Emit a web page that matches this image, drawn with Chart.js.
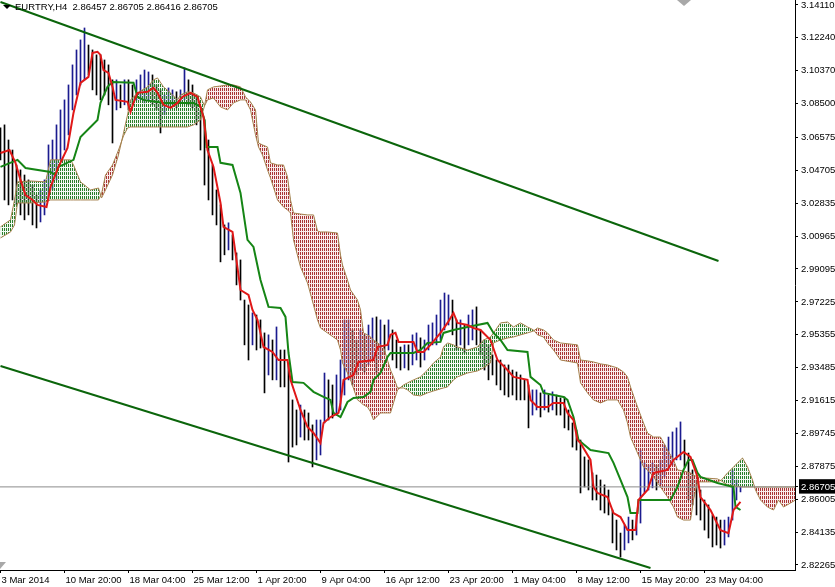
<!DOCTYPE html>
<html lang="en">
<head>
<meta charset="UTF-8">
<title>EURTRY,H4</title>
<style>
  body { margin: 0; background: #fff; }
  #wrap { position: relative; width: 835px; height: 587px; }
  #chart { display: block; }
  #title { position: absolute; left: 15px; top: 1px; font: 9.5px "Liberation Sans", sans-serif; color: #000; white-space: pre; line-height: 12px; }
  #arrow { position: absolute; left: 3px; top: 5px; width: 0; height: 0; border-left: 4px solid transparent; border-right: 4px solid transparent; border-top: 4px solid #000; }
  #shift { position: absolute; left: 677px; top: 0; width: 0; height: 0; border-left: 7px solid transparent; border-right: 7px solid transparent; border-top: 6px solid #a8a8a8; }
  #corner { position: absolute; left: 0; top: 562px; width: 0; height: 0; border-top: 7px solid #a8a8a8; border-right: 6px solid transparent; }
</style>
</head>
<body>
<div id="wrap">
  <canvas id="chart" width="835" height="587"></canvas>
  <div id="arrow"></div>
  <div id="title">EURTRY,H4  2.86457 2.86705 2.86416 2.86705</div>
  <div id="shift"></div>
  <div id="corner"></div>
</div>

<script src="https://cdn.jsdelivr.net/npm/chart.js@4.4.0/dist/chart.umd.min.js"></script>
<script>
// x axis is in H4 bars counted from the left edge of the chart
const xMin = -0.25, xMax = 397.25;
const xTickBars = [0, 32, 64, 96, 128, 160, 192, 224, 256, 288, 320, 352];
const xLabels = ["3 Mar 2014", "10 Mar 20:00", "18 Mar 04:00", "25 Mar 12:00", "1 Apr 20:00", "9 Apr 04:00",
                 "16 Apr 12:00", "23 Apr 20:00", "1 May 04:00", "8 May 12:00", "15 May 20:00", "23 May 04:00"];

const yMin = 2.8198, yMax = 3.1439;
const yTicks = [3.14110, 3.12240, 3.10370, 3.08500, 3.06575, 3.04705, 3.02835, 3.00965, 2.99095,
                2.97225, 2.95355, 2.93485, 2.91615, 2.89745, 2.87875, 2.86005, 2.84135, 2.82265];
const lastClose = 2.86705;

// price bars, one every 2 bars
const barStep = 2;
const barHigh = [
  3.0712, 3.0729, 3.0643, 3.0586, 3.0501, 3.0473, 3.0444, 3.0416, 3.0387, 3.0330,
  3.0359, 3.0416, 3.0615, 3.0643, 3.0729, 3.0814, 3.0871, 3.0956, 3.1070, 3.1155,
  3.1212, 3.1280, 3.1183, 3.1155, 3.1127, 3.1127, 3.1098, 3.1070, 3.0985, 3.0985,
  3.0956, 3.0985, 3.0985, 3.0956, 3.0985, 3.1013, 3.1041, 3.1030, 3.1013, 3.0956,
  3.0928, 3.0899, 3.0939, 3.0928, 3.0917, 3.0928, 3.1053, 3.0985, 3.0956, 3.0899,
  3.0814, 3.0757, 3.0643, 3.0501, 3.0359, 3.0274, 3.0160, 3.0172, 3.0103, 3.0001,
  2.9961, 2.9733, 2.9705, 2.9660, 2.9648, 2.9620, 2.9546, 2.9535, 2.9506, 2.9580,
  2.9449, 2.9449, 2.9375, 2.9165, 2.9108, 2.9136, 2.9108, 2.9091, 2.9023, 2.9051,
  2.9051, 2.9318, 2.9279, 2.9250, 2.9307, 2.9392, 2.9620, 2.9620, 2.9563, 2.9506,
  2.9563, 2.9535, 2.9591, 2.9631, 2.9637, 2.9620, 2.9591, 2.9620, 2.9563, 2.9506,
  2.9466, 2.9478, 2.9478, 2.9535, 2.9546, 2.9518, 2.9506, 2.9591, 2.9603, 2.9648,
  2.9733, 2.9773, 2.9762, 2.9733, 2.9620, 2.9620, 2.9591, 2.9648, 2.9677, 2.9694,
  2.9563, 2.9506, 2.9478, 2.9421, 2.9392, 2.9392, 2.9364, 2.9364, 2.9335, 2.9324,
  2.9307, 2.9279, 2.9250, 2.9222, 2.9222, 2.9205, 2.9222, 2.9193, 2.9211, 2.9193,
  2.9176, 2.9182, 2.9108, 2.9034, 2.8994, 2.8937, 2.8841, 2.8824, 2.8750, 2.8738,
  2.8710, 2.8682, 2.8653, 2.8539, 2.8482, 2.8408, 2.8454, 2.8499, 2.8482, 2.8511,
  2.8880, 2.8807, 2.8795, 2.8807, 2.8795, 2.8824, 2.8909, 2.8954, 2.8983, 2.9006,
  2.9040, 2.8937, 2.8863, 2.8767, 2.8710, 2.8653, 2.8596, 2.8568, 2.8511, 2.8499,
  2.8482, 2.8482, 2.8499, 2.8767, 2.8710, 2.8671
];
const barLow = [
  3.0530, 3.0302, 3.0274, 3.0302, 3.0274, 3.0217, 3.0189, 3.0217, 3.0160, 3.0143,
  3.0177, 3.0217, 3.0302, 3.0359, 3.0416, 3.0530, 3.0586, 3.0672, 3.0814, 3.0899,
  3.0956, 3.0985, 3.1013, 3.0928, 3.0899, 3.0871, 3.0899, 3.0843, 3.0626, 3.0814,
  3.0826, 3.0843, 3.0814, 3.0843, 3.0871, 3.0871, 3.0854, 3.0871, 3.0843, 3.0814,
  3.0683, 3.0786, 3.0826, 3.0843, 3.0826, 3.0854, 3.0871, 3.0843, 3.0826, 3.0729,
  3.0586, 3.0387, 3.0302, 3.0217, 3.0160, 2.9950, 2.9990, 3.0018, 2.9961, 2.9819,
  2.9733, 2.9478, 2.9392, 2.9478, 2.9449, 2.9460, 2.9205, 2.9307, 2.9279, 2.9279,
  2.9239, 2.9239, 2.8812, 2.8897, 2.8909, 2.8954, 2.8937, 2.8937, 2.8784, 2.8824,
  2.8852, 2.9034, 2.9051, 2.9062, 2.9079, 2.9108, 2.9193, 2.9279, 2.9250, 2.9307,
  2.9335, 2.9324, 2.9364, 2.9392, 2.9318, 2.9392, 2.9421, 2.9449, 2.9392, 2.9347,
  2.9335, 2.9347, 2.9335, 2.9364, 2.9392, 2.9352, 2.9392, 2.9449, 2.9478, 2.9478,
  2.9506, 2.9563, 2.9591, 2.9535, 2.9449, 2.9478, 2.9432, 2.9478, 2.9506, 2.9478,
  2.9421, 2.9335, 2.9279, 2.9307, 2.9250, 2.9222, 2.9193, 2.9182, 2.9193, 2.9165,
  2.9165, 2.9165, 2.9006, 2.9079, 2.9108, 2.9068, 2.9108, 2.9096, 2.9108, 2.9079,
  2.9079, 2.9006, 2.8994, 2.8897, 2.8880, 2.8636, 2.8670, 2.8653, 2.8596, 2.8596,
  2.8539, 2.8522, 2.8511, 2.8352, 2.8312, 2.8272, 2.8312, 2.8352, 2.8369, 2.8397,
  2.8465, 2.8636, 2.8653, 2.8665, 2.8653, 2.8682, 2.8727, 2.8767, 2.8795, 2.8824,
  2.8824, 2.8784, 2.8596, 2.8568, 2.8511, 2.8482, 2.8425, 2.8380, 2.8329, 2.8340,
  2.8323, 2.8340, 2.8386, 2.8482, 2.8596, 2.8642
];

// Ichimoku: Tenkan-sen (red) and Kijun-sen (green), vertices
const tenkanBar = [
  0, 4.5, 7.5, 10, 12.5, 16, 18.5, 23, 25, 29,
  33.5, 36.5, 40, 44, 46, 48.5, 50, 51.5, 54, 56,
  57.5, 63.5, 65, 66.5, 68.5, 73.5, 76.5, 78.5, 81.5, 85,
  88.5, 91, 95, 98.5, 101.5, 103.5, 106.5, 110, 111.5, 116,
  117.5, 120, 124, 126, 128.5, 130, 131.5, 136, 139, 143.5,
  145, 150, 153.5, 156.5, 160, 161.5, 165, 169, 170, 171.5,
  176.5, 179, 186.5, 188.5, 193.5, 195, 197.5, 199, 206.5, 208.5,
  211.5, 215, 220, 223.5, 226.5, 228.5, 233.5, 236.5, 240, 245,
  248.5, 253.5, 256.5, 263.5, 265, 268.5, 273.5, 276.5, 281.5, 283.5,
  286.5, 288.5, 290, 295, 296.5, 298.5, 303.5, 306.5, 310, 313.5,
  317.5, 319, 323.5, 326.5, 333.5, 336.5, 341.5, 345, 348.5, 350,
  355, 360, 364, 366.5, 370
];
const tenkanVal = [
  3.0569, 3.0586, 3.0513, 3.0416, 3.0330, 3.0302, 3.0274, 3.0262, 3.0376, 3.0490,
  3.0598, 3.0797, 3.0968, 3.1002, 3.1138, 3.1144, 3.1127, 3.1041, 3.1024, 3.0945,
  3.0871, 3.0860, 3.0803, 3.0854, 3.0911, 3.0917, 3.0939, 3.0911, 3.0843, 3.0826,
  3.0854, 3.0888, 3.0911, 3.0888, 3.0774, 3.0586, 3.0490, 3.0285, 3.0149, 3.0120,
  3.0001, 2.9790, 2.9762, 2.9677, 2.9620, 2.9546, 2.9466, 2.9438, 2.9392, 2.9392,
  2.9279, 2.9108, 2.9011, 2.8977, 2.8920, 2.9034, 2.9068, 2.9091, 2.9148, 2.9279,
  2.9307, 2.9381, 2.9392, 2.9466, 2.9478, 2.9535, 2.9546, 2.9495, 2.9495, 2.9438,
  2.9438, 2.9478, 2.9546, 2.9603, 2.9660, 2.9603, 2.9591, 2.9574, 2.9563, 2.9506,
  2.9392, 2.9335, 2.9296, 2.9279, 2.9165, 2.9125, 2.9125, 2.9148, 2.9148, 2.9091,
  2.9051, 2.8937, 2.8920, 2.8824, 2.8670, 2.8636, 2.8613, 2.8522, 2.8499, 2.8425,
  2.8425, 2.8596, 2.8653, 2.8750, 2.8767, 2.8824, 2.8869, 2.8841, 2.8727, 2.8613,
  2.8539, 2.8425, 2.8408, 2.8539, 2.8585
];
const kijunBar = [
  0, 8.5, 12.5, 25, 27.5, 29, 36.5, 40, 45, 48.5,
  50, 53.5, 56, 66.5, 68.5, 71.5, 81.5, 96.5, 100, 102,
  103, 108.5, 110, 116, 120, 123.5, 126.5, 130, 134, 140,
  142.5, 144, 146, 151.5, 156.5, 161.5, 165, 166.5, 170, 173.5,
  176.5, 181.5, 185, 186.5, 190, 193.5, 195, 206.5, 210, 213.5,
  220, 221.5, 226.5, 233.5, 243.5, 246.5, 250, 253.5, 263.5, 265,
  270, 271.5, 281.5, 283.5, 286.5, 289, 295, 304, 306.5, 310,
  313.5, 315, 318.5, 319, 335, 338.5, 341.5, 344, 346, 348.5,
  350, 358.5, 366.5, 367.5, 370
];
const kijunVal = [
  3.0490, 3.0530, 3.0484, 3.0461, 3.0444, 3.0490, 3.0530, 3.0660, 3.0717, 3.0757,
  3.0854, 3.0945, 3.0973, 3.0968, 3.0888, 3.0871, 3.0854, 3.0854, 3.0831, 3.0757,
  3.0603, 3.0603, 3.0513, 3.0501, 3.0342, 3.0075, 3.0035, 2.9847, 2.9694, 2.9688,
  2.9637, 2.9432, 2.9267, 2.9262, 2.9211, 2.9182, 2.9165, 2.9091, 2.9068, 2.9153,
  2.9176, 2.9182, 2.9211, 2.9279, 2.9318, 2.9409, 2.9432, 2.9432, 2.9449, 2.9489,
  2.9495, 2.9546, 2.9563, 2.9580, 2.9603, 2.9546, 2.9506, 2.9449, 2.9438, 2.9296,
  2.9250, 2.9205, 2.9182, 2.9165, 2.9068, 2.8937, 2.8880, 2.8863, 2.8807, 2.8710,
  2.8613, 2.8522, 2.8522, 2.8596, 2.8596, 2.8670, 2.8767, 2.8824, 2.8824, 2.8750,
  2.8727, 2.8693, 2.8670, 2.8557, 2.8539
];

// Kumo: Senkou Span A / B (already shifted 26 bars ahead)
const cloudBar = [
  0, 5, 7, 8.5, 15, 22.5, 25, 35, 36.5, 40,
  45, 49, 50.5, 52.5, 56, 59, 61.5, 63.5, 65, 68.5,
  73.5, 76.5, 78.5, 81.5, 85, 88.5, 90, 93.5, 96.5, 100,
  102, 103.5, 106.5, 110, 113.5, 116.5, 120, 122.5, 125, 127.5,
  129, 131, 133.5, 135, 138.5, 141.5, 143.5, 145, 146.5, 150,
  153.5, 156.5, 158.5, 160, 163.5, 168.5, 170, 171, 173.5, 175,
  178.5, 180, 181.5, 183.5, 185, 186.5, 190, 191.5, 193.5, 195,
  196.5, 198.5, 201.5, 203.5, 206.5, 210, 213.5, 216.5, 220, 221.5,
  223.5, 226.5, 228.5, 233.5, 238.5, 241.5, 245, 246.5, 250, 253.5,
  256.5, 260, 263.5, 266.5, 268.5, 271.5, 273.5, 276.5, 280, 288.5,
  290, 293.5, 296.5, 300, 303.5, 308.5, 311.5, 313.5, 315, 318.5,
  321.5, 323.5, 326.5, 330, 333.5, 336.5, 338.5, 341.5, 345, 346.5,
  348.5, 352.5, 358.5, 360.5, 363.5, 366.5, 371, 373.5, 376, 377.5,
  380, 383.5, 386.5, 389, 391.5, 395, 397.5
];
const spanA = [
  3.0149, 3.0189, 3.0302, 3.0405, 3.0410, 3.0405, 3.0530, 3.0530, 3.0501, 3.0405,
  3.0359, 3.0370, 3.0313, 3.0359, 3.0444, 3.0558, 3.0683, 3.0785, 3.0871, 3.0911,
  3.0945, 3.0985, 3.0996, 3.0945, 3.0911, 3.0871, 3.0899, 3.0917, 3.0911, 3.0888,
  3.0837, 3.0871, 3.0882, 3.0831, 3.0814, 3.0854, 3.0871, 3.0871, 3.0814, 3.0672,
  3.0603, 3.0558, 3.0473, 3.0427, 3.0302, 3.0262, 3.0245, 3.0228, 3.0075, 2.9921,
  2.9830, 2.9705, 2.9620, 2.9574, 2.9546, 2.9506, 2.9449, 2.9375, 2.9318, 2.9279,
  2.9165, 2.9153, 2.9136, 2.9125, 2.9097, 2.9051, 2.9091, 2.9091, 2.9091, 2.9091,
  2.9148, 2.9222, 2.9250, 2.9262, 2.9279, 2.9296, 2.9335, 2.9375, 2.9409, 2.9466,
  2.9489, 2.9478, 2.9466, 2.9449, 2.9466, 2.9506, 2.9523, 2.9546, 2.9603, 2.9608,
  2.9580, 2.9603, 2.9580, 2.9563, 2.9535, 2.9523, 2.9489, 2.9449, 2.9392, 2.9375,
  2.9262, 2.9205, 2.9165, 2.9148, 2.9165, 2.9165, 2.9108, 2.9034, 2.8954, 2.8863,
  2.8784, 2.8767, 2.8727, 2.8670, 2.8613, 2.8556, 2.8499, 2.8482, 2.8482, 2.8596,
  2.8699, 2.8699, 2.8699, 2.8710, 2.8750, 2.8784, 2.8835, 2.8784, 2.8710, 2.8653,
  2.8596, 2.8556, 2.8539, 2.8596, 2.8556, 2.8579, 2.8596
];
const spanB = [
  3.0086, 3.0120, 3.0160, 3.0285, 3.0285, 3.0291, 3.0302, 3.0302, 3.0302, 3.0302,
  3.0302, 3.0302, 3.0336, 3.0444, 3.0501, 3.0586, 3.0666, 3.0711, 3.0717, 3.0717,
  3.0717, 3.0717, 3.0717, 3.0717, 3.0717, 3.0717, 3.0717, 3.0717, 3.0729, 3.0757,
  3.0837, 3.0928, 3.0945, 3.0950, 3.0956, 3.0956, 3.0945, 3.0888, 3.0859, 3.0814,
  3.0626, 3.0615, 3.0603, 3.0513, 3.0501, 3.0501, 3.0433, 3.0302, 3.0228, 3.0222,
  3.0217, 3.0217, 3.0126, 3.0120, 3.0120, 3.0114, 2.9989, 2.9932, 2.9847, 2.9790,
  2.9733, 2.9677, 2.9546, 2.9535, 2.9523, 2.9506, 2.9478, 2.9466, 2.9392, 2.9335,
  2.9296, 2.9233, 2.9233, 2.9222, 2.9193, 2.9188, 2.9205, 2.9216, 2.9228, 2.9233,
  2.9239, 2.9279, 2.9296, 2.9318, 2.9330, 2.9347, 2.9375, 2.9489, 2.9506, 2.9517,
  2.9523, 2.9535, 2.9546, 2.9557, 2.9574, 2.9563, 2.9546, 2.9506, 2.9489, 2.9478,
  2.9392, 2.9387, 2.9381, 2.9370, 2.9364, 2.9347, 2.9324, 2.9296, 2.9239, 2.9125,
  2.9034, 2.8977, 2.8954, 2.8954, 2.8880, 2.8824, 2.8767, 2.8761, 2.8750, 2.8738,
  2.8727, 2.8721, 2.8716, 2.8704, 2.8682, 2.8676, 2.8670, 2.8670, 2.8670, 2.8670,
  2.8670, 2.8670, 2.8670, 2.8670, 2.8670, 2.8670, 2.8670
];

// channel trend lines
const trendTopBar = [0, 359];
const trendTopVal = [3.1428, 2.9955];
const trendLowBar = [0, 325];
const trendLowVal = [2.9358, 2.8209];

const FONT = { family: "Liberation Sans", size: 9.5 };

function pts(xs, ys) {
  return xs.map((x, i) => ({ x: x, y: ys[i] }));
}

const canvas = document.getElementById("chart");
const ctx = canvas.getContext("2d");

// dotted histogram look of the MT4 cloud
function hatch(dot, tint) {
  const c = document.createElement("canvas");
  c.width = 2;
  c.height = 4;
  const g = c.getContext("2d");
  g.fillStyle = tint;
  g.fillRect(0, 0, 2, 4);
  g.fillStyle = dot;
  g.fillRect(0, 0, 1, 3);
  return ctx.createPattern(c, "repeat");
}
const greenHatch = hatch("#2a7d2a", "rgba(190,225,190,0.2)");
const redHatch = hatch("#a83434", "rgba(235,190,190,0.3)");

const barData = barHigh.map((h, i) => ({ x: i * barStep, y: [barLow[i], h] }));
const barColors = barHigh.map((h, i) =>
  i > 0 && h + barLow[i] > barHigh[i - 1] + barLow[i - 1] ? "#1b1b8f" : "#000000");

new Chart(ctx, {
  type: "line",
  data: {
    datasets: [
      { label: "Channel top", data: pts(trendTopBar, trendTopVal), borderColor: "#0b650b", borderWidth: 2, pointRadius: 0, order: 0 },
      { label: "Channel bottom", data: pts(trendLowBar, trendLowVal), borderColor: "#0b650b", borderWidth: 2, pointRadius: 0, order: 0 },
      { label: "Tenkan-sen", data: pts(tenkanBar, tenkanVal), borderColor: "#e01818", borderWidth: 2, pointRadius: 0, order: 1 },
      { label: "Kijun-sen", data: pts(kijunBar, kijunVal), borderColor: "#158515", borderWidth: 2, pointRadius: 0, order: 2 },
      { label: "Bid", data: [{ x: xMin, y: lastClose }, { x: xMax, y: lastClose }], borderColor: "#8c8c8c", borderWidth: 1, pointRadius: 0, order: 3 },
      { label: "Senkou Span A", data: pts(cloudBar, spanA), borderColor: "#a5824f", borderWidth: 1, pointRadius: 0,
        fill: { target: "+1", above: greenHatch, below: redHatch }, order: 4.5 },
      { label: "Senkou Span B", data: pts(cloudBar, spanB), borderColor: "#a5824f", borderWidth: 1, pointRadius: 0, order: 4 },
      { type: "bar", label: "EURTRY,H4", data: barData, backgroundColor: barColors, borderWidth: 0, barThickness: 1, order: 5 }
    ]
  },
  options: {
    responsive: false,
    animation: false,
    events: [],
    layout: { padding: 0 },
    plugins: { legend: { display: false }, tooltip: { enabled: false } },
    scales: {
      x: {
        type: "linear",
        min: xMin,
        max: xMax,
        offset: false,
        grid: { drawOnChartArea: false, drawTicks: true, tickLength: 3, color: "#000", offset: false },
        border: { color: "#000" },
        afterBuildTicks: s => { s.ticks = xTickBars.map(v => ({ value: v })); },
        afterFit: s => { s.height = 17; s.paddingLeft = 0; s.paddingRight = 0; },
        ticks: { autoSkip: false, maxRotation: 0, align: "start", padding: 2, labelOffset: 1, font: FONT, color: "#000",
                 callback: (v, i) => xLabels[i] }
      },
      y: {
        type: "linear",
        position: "right",
        min: yMin,
        max: yMax,
        grid: { drawOnChartArea: false, tickLength: 3, color: "#000" },
        border: { color: "#000" },
        afterBuildTicks: s => { s.ticks = yTicks.concat([lastClose]).sort((a, b) => a - b).map(v => ({ value: v })); },
        afterFit: s => { s.width = 40; s.paddingTop = 0; s.paddingBottom = 0; },
        ticks: {
          autoSkip: false, padding: 3, font: FONT,
          color: c => c.tick && c.tick.value === lastClose ? "#fff" : "#000",
          showLabelBackdrop: c => !!(c.tick && c.tick.value === lastClose),
          backdropColor: "#000",
          backdropPadding: { left: 2, right: 4, top: 2, bottom: 1 },
          callback: v => v.toFixed(5)
        }
      }
    }
  }
});
</script>
</body>
</html>
